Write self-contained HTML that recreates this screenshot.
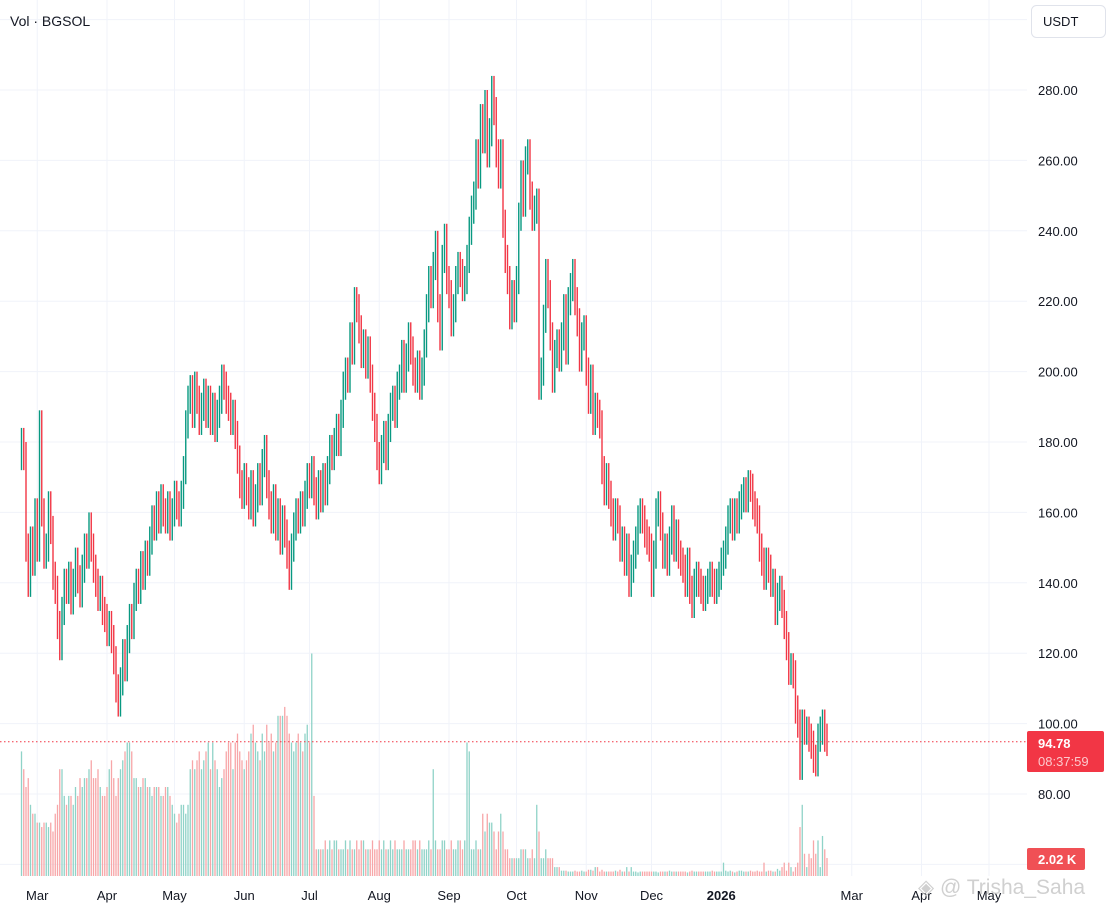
<!DOCTYPE html>
<html><head><meta charset="utf-8"><style>
body{margin:0;background:#fff;font-family:"Liberation Sans",sans-serif;}
svg{display:block}
</style></head><body>
<svg id="chart" width="1111" height="912" xmlns="http://www.w3.org/2000/svg">
<g id="grid"></g>
<g id="vol"></g>
<g id="bars"></g>
<line x1="0" x2="1027" y1="741.8" y2="741.8" stroke="#f23645" stroke-width="1" stroke-dasharray="1.5,2.5"/>
<g id="yaxis"></g>
<g id="xaxis"></g>
<text x="10" y="26" font-size="14" fill="#131722">Vol · BGSOL</text>
<rect x="1031.5" y="5.5" width="74" height="32" rx="5" fill="#fff" stroke="#e0e3eb"/>
<text x="1043" y="26" font-size="13" fill="#131722">USDT</text>
<rect x="1027" y="731" width="77" height="41" rx="2" fill="#f23645"/>
<text x="1038" y="748" font-size="13" font-weight="bold" fill="#fff">94.78</text>
<text x="1038" y="766" font-size="13" fill="#fcc8cc">08:37:59</text>
<rect x="1027" y="848" width="58" height="22" rx="2" fill="#f05055"/>
<text x="1038" y="864" font-size="13" font-weight="bold" fill="#fff">2.02 K</text>
<text x="918" y="894" font-size="21" fill="#c8c8c8" opacity="0.85">◈ @ Trisha_Saha</text>
</svg>
<script>
const closes=[180,176,150,140,152,146,160,150,185,160,
148,150,162,155,142,138,128,122,132,140,
138,142,135,140,146,141,137,144,150,148,
156,150,144,140,136,138,132,130,126,128,
124,118,110,106,112,120,116,124,130,128,
136,140,138,145,142,148,146,152,158,156,
162,158,164,160,158,162,156,160,165,162,
160,165,172,185,192,195,188,196,192,186,
190,194,188,192,186,190,184,188,192,198,
196,192,190,186,188,182,175,168,165,170,
166,162,168,160,164,170,166,174,178,168,
162,158,164,156,160,152,158,154,148,142,
150,156,160,158,162,160,165,170,168,172,
166,162,168,164,170,166,172,178,176,180,
184,180,188,196,200,198,210,206,220,218,
212,205,208,202,206,198,190,184,176,172,
178,182,176,184,190,192,188,196,198,205,
198,204,210,206,200,198,202,196,200,208,
218,226,222,230,236,218,210,232,238,226,
222,214,218,226,230,228,224,226,232,240,
246,250,262,256,272,266,276,262,268,280,
274,262,256,262,242,232,226,216,222,218,
226,244,256,248,260,262,250,244,246,248,
196,200,215,228,222,210,198,205,208,204,
210,218,206,220,224,228,220,214,204,210,
212,200,192,198,186,190,188,185,172,166,
170,165,160,156,160,158,150,152,146,150,
140,144,148,152,158,160,158,154,152,150,
140,148,160,162,156,148,150,146,152,158,
150,154,148,146,144,140,146,138,134,140,
142,140,138,136,138,140,142,140,138,140,
142,146,148,152,158,160,156,160,158,162,
164,166,164,168,167,162,160,158,150,146,
142,146,144,140,140,132,136,138,134,128,
122,115,116,114,104,100,88,100,98,98,
96,94,90,89,96,98,100,96,94.78];
const volumes=[14,12,10,11,8,7,7,6,6,5.5,
6,6,5.5,6,5,7,8,12,12,9,
8,9,9,8,10,9,11,10,11,11,
12,13,11,11,12,10,9,9,10,12,
13,11,9,11,12,13,14,15,15,14,
11,11,10,10,11,11,10,10,9,10,
10,10,9,9,10,10,9,8,7,6,
7,8,8,7,8,12,13,12,13,14,
12,13,14,15,12,15,13,12,10,11,
12,14,15,15,12,15,16,14,13,12,
13,14,16,17,15,14,13,16,14,17,
15,16,14,15,18,18,18,19,18,16,
15,14,15,16,15,14,16,17,15,25,
9,3,3,3,3,4,3,4,3,4,
4,3,3,3,4,3,4,3,3,4,
3,4,4,3,3,3,4,3,3,4,
3,4,3,3,4,3,4,3,3,3,
4,3,3,3,4,4,3,4,3,3,
3,4,3,12,4,3,3,4,4,3,
3,4,3,3,4,4,3,4,15,14,
3,3,4,3,3,7,5,7,6,6,
5,3,5,7,5,3,3,2,2,2,
2,2,3,3,3,2,2,3,2,8,
5,2,2,3,2,2,2,1,1,1,
0.6,0.6,0.6,0.5,0.5,0.5,0.6,0.5,0.5,0.6,
0.5,0.5,0.7,0.7,0.6,1,1,0.5,0.7,0.5,
0.5,0.5,0.5,0.5,0.6,0.5,0.7,0.5,0.5,1,
0.5,1,0.5,0.5,0.4,0.5,0.5,0.5,0.5,0.5,
0.5,0.5,0.5,0.4,0.5,0.5,0.5,0.5,0.6,0.5,
0.5,0.5,0.5,0.5,0.5,0.5,0.4,0.5,0.6,0.5,
0.5,0.5,0.5,0.5,0.5,0.5,0.5,0.6,0.5,0.5,
0.5,0.5,1.5,0.6,0.5,0.6,0.5,0.4,0.5,0.6,
0.6,0.5,0.5,0.5,0.6,0.5,0.5,0.6,0.5,0.5,
1.5,0.5,0.6,0.6,0.5,0.5,0.8,0.6,1,1.5,
0.6,1.5,1,0.5,1,1.5,5.5,8,2.5,1,
2.5,2,4,2.5,4,1,4.5,3,2.02];
const priceTicks=[280,260,240,220,200,180,160,140,120,100,80];
const monthLabels=["Mar","Apr","May","Jun","Jul","Aug","Sep","Oct","Nov","Dec","2026","","Mar","Apr","May"];
const monthIndex=[7,38,68,99,128,159,190,220,251,280,311,341,369,400,430];
const firstOpen=176;

const NS="http://www.w3.org/2000/svg";
const plotRight=1027;
const yP=p=>90+(280-p)*3.52;
const xI=i=>21.5+2.25*i;
const yV=v=>876-v*8.9;
function mk(tag,attrs,parent){const e=document.createElementNS(NS,tag);for(const k in attrs)e.setAttribute(k,attrs[k]);parent.appendChild(e);return e;}
const grid=document.getElementById('grid'),vol=document.getElementById('vol'),bars=document.getElementById('bars'),ya=document.getElementById('yaxis'),xa=document.getElementById('xaxis');
[300,...priceTicks,60].forEach(p=>{
  const l=mk('line',{x1:0,x2:plotRight,y1:yP(p),y2:yP(p),stroke:'#f0f3fa','stroke-width':1},grid);
  
  
});
priceTicks.forEach(p=>{
  const t=mk('text',{x:1038,y:yP(p)+5,'font-size':13,fill:'#131722'},ya);
  t.textContent=p.toFixed(2);
  
  
});
monthLabels.forEach((m,k)=>{
  const x=xI(monthIndex[k]);
  const l=mk('line',{x1:x,x2:x,y1:0,y2:876,stroke:'#f0f3fa','stroke-width':1},grid);
  
  
  if(!m) return;
  const t=mk('text',{x:x,y:900,'font-size':13,fill:'#131722','text-anchor':'middle','font-weight':m==='2026'?'bold':'normal'},xa);
  t.textContent=m;
  
  
});
closes.forEach((c,i)=>{
  const o=i===0?firstOpen:closes[i-1];
  const up=c>=o;
  const x=xI(i);
  const v=mk('rect',{x:x-0.65,y:yV(volumes[i]),width:1.3,height:876-yV(volumes[i]),fill:up?'#8fd3c8':'#f7a6a8'},vol);
  
  
  const hi=Math.max(o,c)+4, lo=Math.min(o,c)-4;
  const b=mk('rect',{x:x-0.7,y:yP(hi),width:1.4,height:yP(lo)-yP(hi),fill:up?'#089981':'#f23645'},bars);
  
  
});
</script>
</body></html>
